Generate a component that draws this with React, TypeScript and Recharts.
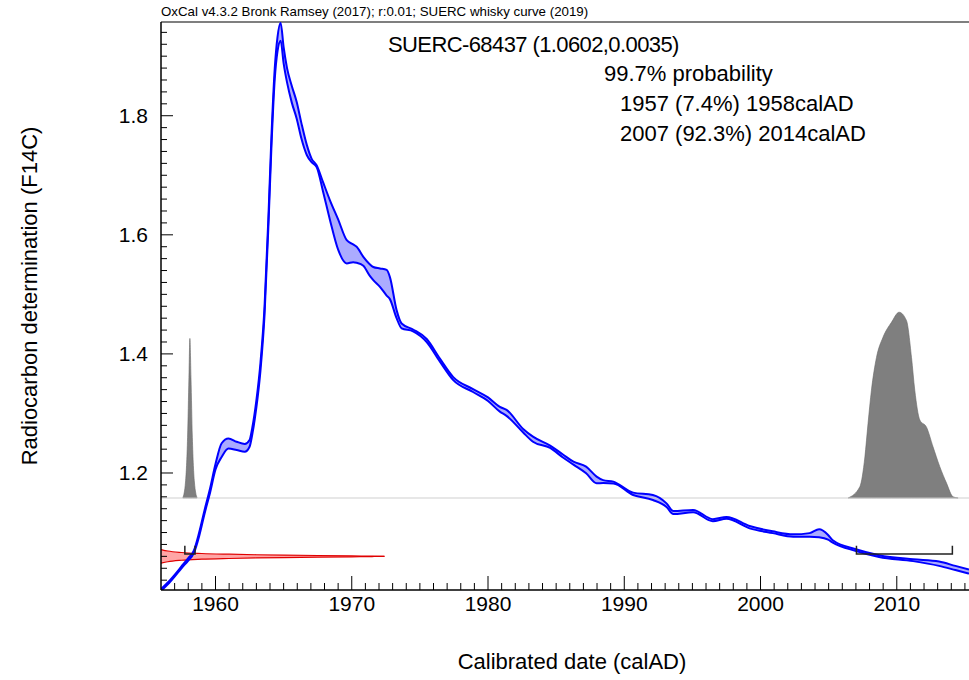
import React from "react";
import { Area, ComposedChart, Line, ReferenceLine, XAxis, YAxis } from "recharts";

const FONT = '"Liberation Sans", Arial, Helvetica, sans-serif';

// calibration curve band (F14C), upper and lower edge
const curveYears = [
  1956.0, 1956.5, 1957.0, 1957.5, 1958.0, 1958.4, 1958.8, 1959.2, 1959.6, 1960.0,
  1960.45, 1960.95, 1961.55, 1962.15, 1962.5, 1962.7, 1963.0, 1963.3, 1963.6, 1963.9,
  1964.1, 1964.35, 1964.55, 1964.78, 1965.0, 1965.25, 1965.6, 1965.96, 1966.3, 1966.7,
  1967.05, 1967.42, 1967.9, 1968.4, 1969.0, 1969.63, 1970.1, 1970.36, 1970.85, 1971.3,
  1971.58, 1972.07, 1972.56, 1972.8, 1973.29, 1973.66, 1974.5, 1975.5, 1976.47, 1977.45,
  1978.9, 1980.0, 1980.87, 1981.36, 1982.58, 1983.3, 1984.56, 1985.5, 1986.27, 1987.2,
  1987.97, 1988.45, 1989.2, 1990.65, 1992.1, 1993.1, 1993.6, 1995.05, 1996.5, 1997.5,
  1999.2, 2000.9, 2002.4, 2003.6, 2004.3, 2004.96, 2005.3, 2007.0, 2008.7, 2011.2,
  2013.1, 2014.3, 2015.3,
];
const curveUpper = [
  1.005, 1.016, 1.029, 1.043, 1.057, 1.069, 1.1, 1.138, 1.174, 1.215,
  1.25, 1.258, 1.2525, 1.2487, 1.2554, 1.276, 1.322, 1.385, 1.48, 1.64,
  1.762, 1.88, 1.932, 1.956, 1.915, 1.88, 1.85, 1.823, 1.788, 1.751,
  1.728, 1.717, 1.688, 1.658, 1.626, 1.591, 1.584, 1.58, 1.563, 1.551,
  1.546, 1.5435, 1.541, 1.529, 1.4735, 1.451, 1.441, 1.425, 1.392, 1.361,
  1.341, 1.327, 1.311, 1.306, 1.274, 1.261, 1.246, 1.231, 1.219, 1.2106,
  1.194, 1.188, 1.1855, 1.167, 1.163, 1.149, 1.136, 1.138, 1.1225, 1.126,
  1.111, 1.102, 1.097, 1.099, 1.1055, 1.096, 1.087, 1.072, 1.062, 1.055,
  1.0512, 1.044, 1.038,
];
const curveLower = [
  1.002, 1.013, 1.026, 1.04, 1.053, 1.065, 1.094, 1.132, 1.167, 1.206,
  1.227, 1.241, 1.2386, 1.2357, 1.244, 1.265, 1.31, 1.372, 1.466, 1.625,
  1.745, 1.862, 1.908, 1.926, 1.888, 1.856, 1.822, 1.795, 1.762, 1.734,
  1.722, 1.714, 1.672, 1.625, 1.575, 1.552, 1.554, 1.553, 1.548, 1.532,
  1.524, 1.5126, 1.498, 1.492, 1.46, 1.443, 1.438, 1.42, 1.387, 1.356,
  1.336, 1.321, 1.303, 1.296, 1.268, 1.2525, 1.242, 1.226, 1.214, 1.1995,
  1.1827, 1.183, 1.1825, 1.163, 1.1547, 1.143, 1.131, 1.134, 1.119, 1.123,
  1.107, 1.099, 1.093, 1.093, 1.092, 1.088, 1.083, 1.069, 1.059, 1.052,
  1.044, 1.037, 1.031,
];

// measurement SUERC-68437 (1.0602 ± 0.0035), drawn lying on the y axis
const measYears = [1956.0, 1956.5, 1957.5, 1959.0, 1961.0, 1963.0, 1965.0, 1967.5, 1970.0, 1971.5, 1972.4];
const measUpper = [1.0715, 1.069, 1.0665, 1.0648, 1.0636, 1.0627, 1.062, 1.0614, 1.0608, 1.0604, 1.0601];
const measLower = [1.0485, 1.051, 1.0535, 1.0552, 1.0564, 1.0573, 1.058, 1.0586, 1.0592, 1.0597, 1.0601];

// calibrated probability distributions
const probBase = 1.158;
const prob1Years = [1957.6, 1957.8, 1957.95, 1958.05, 1958.12, 1958.2, 1958.3, 1958.45, 1958.65];
const prob1Values = [1.158, 1.185, 1.26, 1.36, 1.426, 1.36, 1.26, 1.185, 1.158];
const prob2Years = [
  2006.43, 2007.29, 2007.66, 2007.89, 2008.14, 2008.51, 2008.99, 2009.61, 2010.17, 2010.71,
  2011.08, 2011.32, 2011.69, 2012.18, 2012.66, 2013.15, 2013.65, 2014.13, 2014.5,
];
const prob2Values = [
  1.158, 1.177, 1.227, 1.283, 1.339, 1.394, 1.428, 1.453, 1.47, 1.456,
  1.394, 1.339, 1.289, 1.277, 1.244, 1.211, 1.183, 1.16, 1.158,
];

// 99.7% ranges
const rangeStarts = [1957.75, 2007.04];
const rangeEnds = [1958.5, 2014.08];
const rangeLevel = 1.064;
const rangeTop = 1.078;

const xDomain = [1956, 2015.3];
const yDomain = [1.0035, 1.9574];
const xMajorTicks = [1960, 1970, 1980, 1990, 2000, 2010];
const yMajorTicks = [1.2, 1.4, 1.6, 1.8];
const yTickLabels = ["1.2", "1.4", "1.6", "1.8"];

const xTicks = Array.from({ length: 59 }, (_, i) => 1957 + i);
const yTicks = Array.from({ length: 47 }, (_, i) => Math.round((1.02 + i * 0.02) * 100) / 100);

const curveRows = curveYears.map((year, i) => ({
  year,
  hi: curveUpper[i],
  lo: curveLower[i],
  band: [curveLower[i], curveUpper[i]],
}));
const measRows = measYears.map((year, i) => ({ year, band: [measLower[i], measUpper[i]] }));
const prob1Rows = prob1Years.map((year, i) => ({ year, band: [probBase, prob1Values[i]] }));
const prob2Rows = prob2Years.map((year, i) => ({ year, band: [probBase, prob2Values[i]] }));
const bracketRows = rangeStarts.map((s, i) => [
  { year: s, v: rangeTop },
  { year: s, v: rangeLevel },
  { year: rangeEnds[i], v: rangeLevel },
  { year: rangeEnds[i], v: rangeTop },
]);

function XTick(props: any) {
  const { x, y, payload } = props;
  const major = xMajorTicks.includes(payload.value);
  return (
    <g>
      <line x1={x} x2={x} y1={y} y2={y - (major ? 14 : 7)} stroke="#000" strokeWidth={1} />
      {major && (
        <text x={x} y={y + 21} textAnchor="middle" fontSize={21} fontFamily={FONT} fill="#000">
          {payload.value}
        </text>
      )}
    </g>
  );
}

function YTick(props: any) {
  const { x, y, payload } = props;
  const idx = yMajorTicks.findIndex((t) => Math.abs(t - payload.value) < 1e-6);
  const major = idx >= 0;
  return (
    <g>
      <line x1={x} x2={x + (major ? 12 : 6)} y1={y} y2={y} stroke="#000" strokeWidth={1} />
      {major && (
        <text x={x - 13} y={y + 7} textAnchor="end" fontSize={21} fontFamily={FONT} fill="#000">
          {yTickLabels[idx]}
        </text>
      )}
    </g>
  );
}

const textStyle: React.CSSProperties = {
  position: "absolute",
  whiteSpace: "nowrap",
  fontFamily: FONT,
  color: "#000",
  lineHeight: 1,
};

export default function App() {
  return (
    <div style={{ position: "absolute", left: 0, top: 0, width: 969, height: 680, background: "#fff" }}>
      <ComposedChart width={969} height={680} margin={{ top: 22, right: 0, bottom: 0, left: 0 }}>
        <XAxis
          type="number"
          dataKey="year"
          domain={xDomain}
          allowDataOverflow
          ticks={xTicks}
          interval={0}
          tickSize={0}
          tickMargin={0}
          tickLine={false}
          axisLine={{ stroke: "#000", strokeWidth: 1.5 }}
          tick={(p: any) => <XTick {...p} />}
          height={90}
        />
        <YAxis
          type="number"
          domain={yDomain}
          allowDataOverflow
          ticks={yTicks}
          interval={0}
          tickSize={0}
          tickMargin={0}
          tickLine={false}
          axisLine={{ stroke: "#000", strokeWidth: 1.5 }}
          tick={(p: any) => <YTick {...p} />}
          width={161}
        />
        <ReferenceLine y={yDomain[1]} stroke="#000" strokeWidth={1.2} />
        <ReferenceLine y={probBase} stroke="#cfcfcf" strokeWidth={1} />
        <Area data={prob1Rows} dataKey="band" type="monotone" fill="#7f7f7f" fillOpacity={1} stroke="#666" strokeWidth={0.6} isAnimationActive={false} />
        <Area data={prob2Rows} dataKey="band" type="monotone" fill="#7f7f7f" fillOpacity={1} stroke="#666" strokeWidth={0.6} isAnimationActive={false} />
        <Area data={measRows} dataKey="band" type="monotone" fill="#ff0000" fillOpacity={0.35} stroke="#e00000" strokeWidth={1.2} isAnimationActive={false} />
        <Area data={curveRows} dataKey="band" type="monotone" fill="#0000ff" fillOpacity={0.33} stroke="none" isAnimationActive={false} />
        <Line data={curveRows} dataKey="hi" type="monotone" stroke="#0000ff" strokeWidth={2} dot={false} isAnimationActive={false} />
        <Line data={curveRows} dataKey="lo" type="monotone" stroke="#0000ff" strokeWidth={2} dot={false} isAnimationActive={false} />
        {bracketRows.map((rows, i) => (
          <Line key={i} data={rows} dataKey="v" type="linear" stroke="#222" strokeWidth={1.5} dot={false} isAnimationActive={false} />
        ))}
      </ComposedChart>
      <div style={{ ...textStyle, left: 161, top: 5, fontSize: 13.3 }}>
        OxCal v4.3.2 Bronk Ramsey (2017); r:0.01; SUERC whisky curve (2019)
      </div>
      <div style={{ ...textStyle, left: 388, top: 34, fontSize: 22, letterSpacing: -0.6 }}>
        SUERC-68437 (1.0602,0.0035)
      </div>
      <div style={{ ...textStyle, left: 604, top: 63, fontSize: 22 }}>99.7% probability</div>
      <div style={{ ...textStyle, left: 620, top: 93, fontSize: 22 }}>1957 (7.4%) 1958calAD</div>
      <div style={{ ...textStyle, left: 620, top: 123, fontSize: 22 }}>2007 (92.3%) 2014calAD</div>
      <div style={{ ...textStyle, left: 572, top: 651, fontSize: 22, transform: "translateX(-50%)" }}>
        Calibrated date (calAD)
      </div>
      <div
        style={{
          ...textStyle,
          left: 30,
          top: 296,
          fontSize: 22,
          transform: "translate(-50%, -50%) rotate(-90deg)",
        }}
      >
        Radiocarbon determination (F14C)
      </div>
    </div>
  );
}
